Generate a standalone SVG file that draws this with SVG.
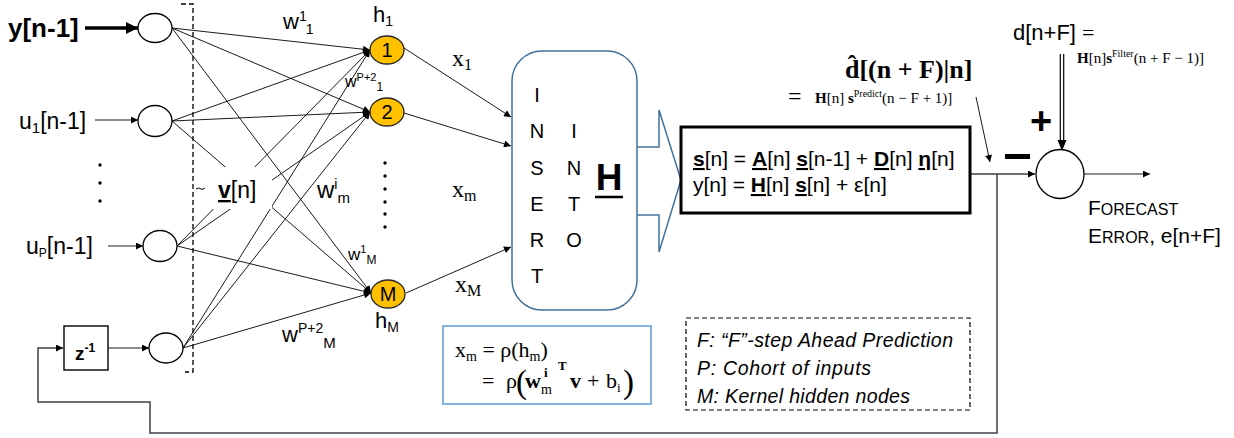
<svg xmlns="http://www.w3.org/2000/svg" width="1234" height="438" viewBox="0 0 1234 438">
  <defs>
    <marker id="ah" viewBox="0 0 10 10" refX="10" refY="5" markerWidth="9" markerHeight="7" markerUnits="userSpaceOnUse" orient="auto">
      <path d="M0,0 L10,5 L0,10 z" fill="#000"/>
    </marker>
    <marker id="ahBig" viewBox="0 0 10 10" refX="10" refY="5" markerWidth="15" markerHeight="12" markerUnits="userSpaceOnUse" orient="auto">
      <path d="M0,0 L10,5 L0,10 z" fill="#000"/>
    </marker>
    <style>
      .sans { font-family: "Liberation Sans", Arial, sans-serif; fill: #000; }
      .serif { font-family: "Liberation Serif", "Times New Roman", serif; fill: #000; }
      .node { fill: #fff; stroke: #000; stroke-width: 1.3; }
      .hidden { fill: #FFC000; stroke: #262626; stroke-width: 1.3; }
      .wire { stroke: #000; stroke-width: 0.9; fill: none; }
      .flow { stroke: #404040; stroke-width: 1.5; fill: none; }
      .dash { stroke: #000; stroke-width: 1.3; stroke-dasharray: 5 3; fill: none; }
      .dot { fill: #000; }
    </style>
  </defs>

  <!-- fully connected weights: inputs to hidden kernel nodes -->
  <g id="connectors">
    <line class="wire" x1="172" y1="28" x2="370" y2="50" marker-end="url(#ah)"/>
    <line class="wire" x1="172" y1="28" x2="370" y2="112" marker-end="url(#ah)"/>
    <line class="wire" x1="172" y1="28" x2="371" y2="293" marker-end="url(#ah)"/>
    <line class="wire" x1="172" y1="121" x2="370" y2="50" marker-end="url(#ah)"/>
    <line class="wire" x1="172" y1="121" x2="370" y2="112" marker-end="url(#ah)"/>
    <line class="wire" x1="172" y1="121" x2="371" y2="293" marker-end="url(#ah)"/>
    <line class="wire" x1="177" y1="246" x2="370" y2="50" marker-end="url(#ah)"/>
    <line class="wire" x1="177" y1="246" x2="370" y2="112" marker-end="url(#ah)"/>
    <line class="wire" x1="177" y1="246" x2="371" y2="293" marker-end="url(#ah)"/>
    <line class="wire" x1="183" y1="348" x2="370" y2="50" marker-end="url(#ah)"/>
    <line class="wire" x1="183" y1="348" x2="370" y2="112" marker-end="url(#ah)"/>
    <line class="wire" x1="183" y1="348" x2="371" y2="293" marker-end="url(#ah)"/>

    <!-- input arrows -->
    <line x1="85" y1="28" x2="138" y2="28" stroke="#000" stroke-width="3.5" marker-end="url(#ahBig)"/>
    <line class="wire" x1="95" y1="120" x2="138" y2="120" marker-end="url(#ah)"/>
    <line class="wire" x1="108" y1="246" x2="143" y2="246" marker-end="url(#ah)"/>
    <line class="wire" x1="108" y1="348" x2="149" y2="348" marker-end="url(#ah)"/>

    <!-- hidden outputs into the H block -->
    <line class="wire" x1="404" y1="48" x2="511" y2="117" marker-end="url(#ah)"/>
    <line class="wire" x1="404" y1="113" x2="511" y2="146" marker-end="url(#ah)"/>
    <line class="wire" x1="406" y1="293" x2="511" y2="247" marker-end="url(#ah)"/>

    <!-- state model to comparator, and feedback loop -->
    <line class="flow" x1="970" y1="174" x2="1035" y2="174" marker-end="url(#ah)"/>
    <polyline class="flow" points="997,174 997,433 150,433 150,402 38,402 38,348 63,348" marker-end="url(#ah)"/>
    <line class="wire" x1="1084" y1="174" x2="1150" y2="174" marker-end="url(#ah)"/>
    <line class="wire" x1="976" y1="97" x2="990" y2="162" marker-end="url(#ah)"/>
    <!-- double line for the desired signal -->
    <line x1="1060.3" y1="54" x2="1060.3" y2="144" stroke="#000" stroke-width="1.2"/>
    <line x1="1063.7" y1="54" x2="1063.7" y2="144" stroke="#000" stroke-width="1.2"/>
    <path d="M1057.5,140 L1066.5,140 L1062,151 z" fill="#000"/>
  </g>

  <!-- dashed input bracket -->
  <g id="bracket">
    <polyline class="dash" points="181,4 193,4 193,372 185,372"/>
    <path d="M196,189 q3,-2 5,0 q2,1 4,-1" stroke="#000" stroke-width="1" fill="none"/>
  </g>

  <!-- input nodes -->
  <g id="in-y">
    <ellipse class="node" cx="155" cy="28" rx="17" ry="14.5"/>
    <text class="sans" x="8" y="37" font-size="26" font-weight="bold">y[n-1]</text>
  </g>
  <g id="in-u1">
    <ellipse class="node" cx="155" cy="121" rx="17" ry="15.5"/>
    <text class="sans" x="19" y="129" font-size="23">u<tspan font-size="15" dy="4">1</tspan><tspan dy="-4">[n-1]</tspan></text>
  </g>
  <g id="in-dots">
    <circle class="dot" cx="100" cy="165" r="1.7"/>
    <circle class="dot" cx="100" cy="183" r="1.7"/>
    <circle class="dot" cx="100" cy="201" r="1.7"/>
  </g>
  <g id="in-uP">
    <ellipse class="node" cx="160" cy="246" rx="17" ry="15.5"/>
    <text class="sans" x="26" y="254" font-size="23">u<tspan font-size="12" dy="3">P</tspan><tspan dy="-3">[n-1]</tspan></text>
  </g>
  <g id="in-fb">
    <ellipse class="node" cx="166" cy="348" rx="17" ry="15"/>
  </g>
  <g id="delay">
    <rect x="64" y="326" width="44" height="44" fill="#fff" stroke="#000" stroke-width="1.4"/>
    <text class="sans" x="75" y="360" font-size="19" font-weight="bold">z<tspan font-size="12" dy="-8">-1</tspan></text>
  </g>

  <!-- input vector label -->
  <g id="vn">
    <rect x="208" y="167" width="64" height="42" fill="#fff"/>
    <text class="sans" x="218" y="198" font-size="23"><tspan font-weight="bold" text-decoration="underline">v</tspan>[n]</text>
  </g>

  <!-- weight labels -->
  <g id="weights" class="sans">
    <text x="283" y="29" font-size="22">w<tspan font-size="14" dy="-8">1</tspan><tspan font-size="14" dy="13">1</tspan></text>
    <text x="345" y="87" font-size="16">w<tspan font-size="11" dy="-6">P+2</tspan><tspan font-size="12" dy="10">1</tspan></text>
    <text x="317" y="198" font-size="24">w<tspan font-size="14" dy="-9">i</tspan><tspan font-size="15" dy="14">m</tspan></text>
    <text x="348" y="260" font-size="17">w<tspan font-size="11" dy="-7">1</tspan><tspan font-size="12" dy="11">M</tspan></text>
    <text x="282" y="342" font-size="22">w<tspan font-size="14" dy="-9">P+2</tspan><tspan font-size="15" dy="15">M</tspan></text>
  </g>

  <!-- hidden kernel nodes -->
  <g id="h1">
    <ellipse class="hidden" cx="387" cy="50" rx="17" ry="14"/>
    <text class="sans" x="387" y="57" font-size="20" text-anchor="middle">1</text>
    <text class="sans" x="373" y="22" font-size="22">h<tspan font-size="14" dy="4">1</tspan></text>
  </g>
  <g id="h2">
    <ellipse class="hidden" cx="387" cy="112" rx="17" ry="14"/>
    <text class="sans" x="387" y="119" font-size="20" text-anchor="middle">2</text>
  </g>
  <g id="h-dots">
    <circle class="dot" cx="385" cy="163" r="1.7"/>
    <circle class="dot" cx="385" cy="176" r="1.7"/>
    <circle class="dot" cx="385" cy="189" r="1.7"/>
    <circle class="dot" cx="385" cy="202" r="1.7"/>
    <circle class="dot" cx="385" cy="214" r="1.7"/>
    <circle class="dot" cx="385" cy="227" r="1.7"/>
  </g>
  <g id="hM">
    <ellipse class="hidden" cx="388" cy="294" rx="17" ry="14"/>
    <text class="sans" x="388" y="301" font-size="20" text-anchor="middle">M</text>
    <text class="sans" x="375" y="328" font-size="22">h<tspan font-size="14" dy="4">M</tspan></text>
  </g>

  <!-- kernel outputs -->
  <g id="x-labels" class="serif">
    <text x="452" y="66" font-size="24">x<tspan font-size="16" dy="4">1</tspan></text>
    <text x="452" y="197" font-size="24">x<tspan font-size="16" dy="4">m</tspan></text>
    <text x="455" y="292" font-size="24">x<tspan font-size="16" dy="4">M</tspan></text>
  </g>

  <!-- INSERT INTO H block with callout -->
  <g id="insert-h">
    <rect x="512" y="51" width="125" height="259" rx="30" ry="30" fill="#fff" stroke="#41719C" stroke-width="1.5"/>
    <polyline points="637,147 659,147 659,110 681,180 659,252 659,215 637,215" fill="none" stroke="#41719C" stroke-width="1.5"/>
    <g class="sans" font-size="20" text-anchor="middle">
      <text x="537" y="102">I</text>
      <text x="537" y="138">N</text>
      <text x="537" y="175">S</text>
      <text x="537" y="211">E</text>
      <text x="537" y="247">R</text>
      <text x="537" y="283">T</text>
      <text x="574" y="138">I</text>
      <text x="574" y="175">N</text>
      <text x="574" y="211">T</text>
      <text x="574" y="247">O</text>
    </g>
    <text class="sans" x="609" y="190" font-size="37" font-weight="bold" text-anchor="middle">H</text>
    <line x1="595" y1="197" x2="623" y2="197" stroke="#000" stroke-width="2.5"/>
  </g>

  <!-- activation formula -->
  <g id="formula">
    <rect x="443" y="326" width="208" height="78" fill="#fff" stroke="#5B9BD5" stroke-width="1.5"/>
    <text class="serif" x="455" y="357" font-size="22">x<tspan font-size="14" dy="4">m</tspan><tspan dy="-4"> = ρ(h</tspan><tspan font-size="14" dy="4">m</tspan><tspan dy="-4">)</tspan></text>
    <g class="serif">
      <text x="482" y="388" font-size="22">=</text>
      <text x="506" y="388" font-size="22">ρ</text>
      <text x="516" y="393" font-size="33">(</text>
      <text x="525" y="388" font-size="22" font-weight="bold">w</text>
      <text x="544" y="377" font-size="13" font-weight="bold">i</text>
      <text x="541" y="394" font-size="14">m</text>
      <text x="558" y="370" font-size="13" font-weight="bold">T</text>
      <text x="570" y="388" font-size="22" font-weight="bold">v</text>
      <text x="587" y="388" font-size="22">+</text>
      <text x="606" y="388" font-size="22">b</text>
      <text x="617" y="392" font-size="13">i</text>
      <text x="623" y="393" font-size="33">)</text>
    </g>
  </g>

  <!-- state-space model -->
  <g id="state">
    <rect x="681" y="127" width="289" height="86" fill="#fff" stroke="#000" stroke-width="3"/>
    <text class="sans" x="693" y="166" font-size="21"><tspan font-weight="bold" text-decoration="underline">s</tspan>[n] = <tspan font-weight="bold" text-decoration="underline">A</tspan>[n] <tspan font-weight="bold" text-decoration="underline">s</tspan>[n-1] + <tspan font-weight="bold" text-decoration="underline">D</tspan>[n] <tspan font-weight="bold" text-decoration="underline">η</tspan>[n]</text>
    <text class="sans" x="693" y="192" font-size="21">y[n] = <tspan font-weight="bold" text-decoration="underline">H</tspan>[n] <tspan font-weight="bold" text-decoration="underline">s</tspan>[n] + ε[n]</text>
  </g>

  <!-- predicted output -->
  <g id="prediction">
    <text class="serif" x="845" y="78" font-size="26" font-weight="bold">d̂[(n + F)|n]</text>
    <text class="serif" x="788" y="104" font-size="24">=</text>
    <text class="serif" x="815" y="103" font-size="15"><tspan font-weight="bold">H</tspan>[n] <tspan font-weight="bold">s</tspan><tspan font-size="10" dy="-6">Predict</tspan><tspan dy="6">(n − F + 1)]</tspan></text>
  </g>

  <!-- desired signal -->
  <g id="desired">
    <text class="sans" x="1013" y="40" font-size="22">d[n+F] <tspan class="serif" font-size="22">=</tspan></text>
    <text class="serif" x="1077" y="63" font-size="15"><tspan font-weight="bold">H</tspan>[n]<tspan font-weight="bold">s</tspan><tspan font-size="10" dy="-6">Filter</tspan><tspan dy="6">(n + F − 1)]</tspan></text>
  </g>

  <!-- comparator -->
  <g id="comparator">
    <ellipse class="node" cx="1060" cy="174" rx="24" ry="24.5"/>
    <text class="sans" x="1041" y="134" font-size="38" font-weight="bold" text-anchor="middle">+</text>
    <rect x="1005" y="154" width="25" height="5" fill="#000"/>
  </g>

  <!-- forecast error output -->
  <g id="error">
    <text class="sans" x="1088" y="215" font-size="21">F<tspan font-size="16">ORECAST</tspan></text>
    <text class="sans" x="1088" y="243" font-size="21">E<tspan font-size="16">RROR</tspan>, e[n+F]</text>
  </g>

  <!-- legend -->
  <g id="legend">
    <rect x="686" y="318" width="284" height="92" fill="#fff" stroke="#000" stroke-width="1.2" stroke-dasharray="5 3"/>
    <g class="sans" font-size="19.5" font-style="italic">
      <text x="697" y="347" textLength="256">F: “F”-step Ahead Prediction</text>
      <text x="697" y="375" textLength="174">P:  Cohort of inputs</text>
      <text x="697" y="403" textLength="213">M: Kernel hidden nodes</text>
    </g>
  </g>
</svg>
